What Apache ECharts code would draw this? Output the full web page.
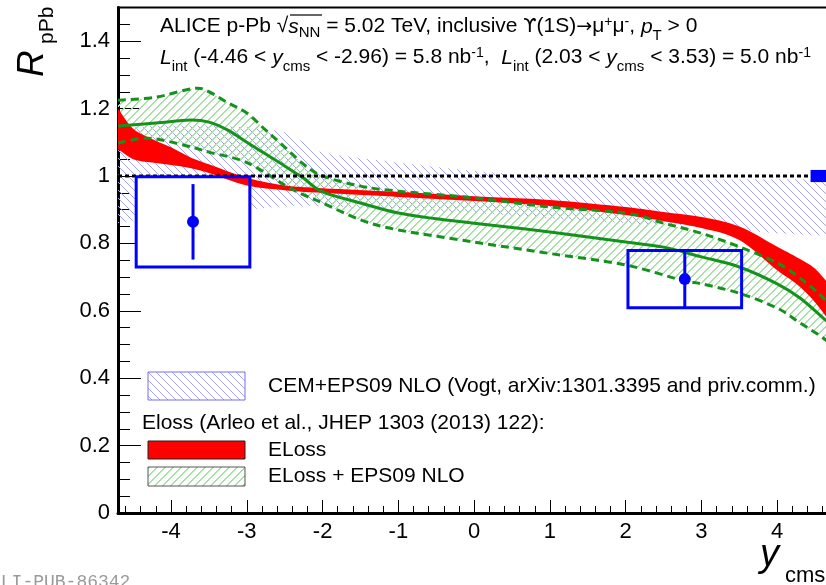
<!DOCTYPE html>
<html><head><meta charset="utf-8">
<script src="https://cdn.jsdelivr.net/npm/echarts@6/dist/echarts.min.js"></script>
<style>html,body{margin:0;padding:0;background:#fff}#c{width:826px;height:585px}</style>
</head><body><div id="c"></div>
<script>
// ---------------- data ----------------
// CEM+EPS09 NLO band (Vogt)
const cemX    = [-4.7, -4.0, -3.0, -2.5, -2.25, -2.0, -1.0, 0.0, 1.0, 2.0, 3.0, 4.0, 5.0];
const cemHigh = [1.14, 1.15, 1.145, 1.13, 1.10, 1.07, 1.04, 1.015, 1.0, 0.995, 0.99, 0.99, 0.99];
const cemLow  = [0.86, 0.88, 0.90, 0.91, 0.91, 0.91, 0.90, 0.89, 0.875, 0.86, 0.85, 0.83, 0.82];
// ELoss band (Arleo et al.)
const elossX    = [-4.7, -4.5, -4.25, -4.0, -3.75, -3.5, -3.0, -2.5, -2.0, -1.0, 0.0, 1.0, 2.0, 2.5, 3.0, 3.5, 4.0, 4.25, 4.5, 4.75];
const elossHigh = [1.20, 1.14, 1.11, 1.085, 1.056, 1.035, 0.995, 0.972, 0.964, 0.953, 0.940, 0.929, 0.908, 0.893, 0.878, 0.850, 0.790, 0.760, 0.725, 0.66];
const elossLow  = [1.08, 1.05, 1.04, 1.033, 1.024, 1.009, 0.972, 0.958, 0.950, 0.938, 0.926, 0.911, 0.884, 0.866, 0.846, 0.810, 0.720, 0.680, 0.625, 0.55];
// ELoss + EPS09 NLO: central curve and band edges
const epsX       = [-4.7, -4.2, -3.75, -3.5, -3.25, -3.0, -2.75, -2.5, -2.25, -2.0, -1.5, -1.0, -0.5, 0.0, 1.0, 2.0, 2.5, 3.0, 3.5, 4.0, 4.3, 4.6, 5.0];
const epsCentral = [1.148, 1.157, 1.166, 1.16, 1.136, 1.10, 1.065, 1.03, 0.993, 0.953, 0.92, 0.89, 0.873, 0.86, 0.834, 0.804, 0.789, 0.76, 0.73, 0.68, 0.638, 0.58, 0.50];
const epsUpX     = [-4.7, -4.2, -3.7, -3.5, -3.25, -3.0, -2.75, -2.5, -2.25, -2.0, -1.5, -1.0, 0.0, 1.0, 2.0, 2.5, 3.0, 3.5, 4.0, 4.3, 4.6, 5.0];
const epsUp      = [1.225, 1.234, 1.26, 1.25, 1.217, 1.187, 1.136, 1.086, 1.035, 1.0, 0.97, 0.955, 0.935, 0.908, 0.89, 0.86, 0.83, 0.79, 0.742, 0.697, 0.64, 0.55];
const epsLowX    = [-4.7, -4.3, -3.8, -3.5, -3.0, -2.5, -2.25, -2.0, -1.5, -1.0, 0.0, 1.0, 2.0, 2.75, 3.0, 3.5, 4.0, 4.3, 4.6, 5.0];
const epsLow     = [1.098, 1.112, 1.09, 1.071, 1.04, 0.973, 0.944, 0.92, 0.87, 0.84, 0.804, 0.77, 0.736, 0.69, 0.68, 0.652, 0.608, 0.564, 0.52, 0.45];
// ALICE data
const dataX    = [-3.71, 2.78];
const dataY    = [0.864, 0.694];
const statErr  = [0.112, 0.085];
const sysErr   = [0.134, 0.085];
const binLow   = [-4.46, 2.03];
const binHigh  = [-2.96, 3.53];
const globalBoxX = [4.44, 4.8];
const globalUnc  = 0.018;
const refX = [-4.7, 5.0];
const refY = [1, 1];
// axes
const xMin = -4.7, xMax = 5.0;
const yMin = 0, yMax = 1.5, yStep = 0.2;
const yTickLabels = ['0', '0.2', '0.4', '0.6', '0.8', '1', '1.2', '1.4'];
const xTickLabels = ['-4', '-3', '-2', '-1', '0', '1', '2', '3', '4'];

// ---------------- helpers ----------------
const FONT = 'Liberation Sans, Arial, Helvetica, sans-serif';
function hatch(color, dir, s, w) {
  const c = document.createElement('canvas'); c.width = s; c.height = s;
  const g = c.getContext('2d');
  g.clearRect(0, 0, s, s);
  g.fillStyle = color;
  for (let i = 0; i < s; i++) {
    for (let j = 0; j < w; j++) {
      if (dir === 'back') g.fillRect((i + j) % s, i, 1, 1);
      else g.fillRect((i + j) % s, s - 1 - i, 1, 1);
    }
  }
  return { type: 'pattern', image: c, repeat: 'repeat' };
}
const blueHatch = hatch('#a4a4f0', 'back', 8, 1);
const greenHatch = hatch('#a6e0a6', 'fwd', 8, 2);
const GREEN = '#14921c';

function smoothSeg(p) {
  let d = '';
  for (let i = 0; i < p.length - 1; i++) {
    const p0 = p[Math.max(i - 1, 0)], p1 = p[i], p2 = p[i + 1], p3 = p[Math.min(i + 2, p.length - 1)];
    const c1x = p1[0] + (p2[0] - p0[0]) / 6, c1y = p1[1] + (p2[1] - p0[1]) / 6;
    const c2x = p2[0] - (p3[0] - p1[0]) / 6, c2y = p2[1] - (p3[1] - p1[1]) / 6;
    d += ' C' + c1x + ',' + c1y + ' ' + c2x + ',' + c2y + ' ' + p2[0] + ',' + p2[1];
  }
  return d;
}
function bandSeries(name, xsHi, hi, xsLo, lo, fill) {
  return {
    type: 'custom', name, clip: true, silent: true,
    data: xsHi.map((x, i) => [x, hi[i]]),
    encode: { x: 0, y: 1 },
    renderItem(params, api) {
      if (params.dataIndex !== 0) return null;
      const up = xsHi.map((x, i) => api.coord([x, hi[i]]));
      const dn = xsLo.map((x, i) => api.coord([x, lo[i]])).reverse();
      const d = 'M' + up[0][0] + ',' + up[0][1] + smoothSeg(up) + ' L' + dn[0][0] + ',' + dn[0][1] + smoothSeg(dn) + ' Z';
      return { type: 'path', shape: { pathData: d }, style: { fill: fill, stroke: 'none', opacity: 1 } };
    }
  };
}
function curveSeries(name, xs, ys, color, width, dash) {
  return {
    type: 'custom', name, clip: true, silent: true,
    data: xs.map((x, i) => [x, ys[i]]),
    encode: { x: 0, y: 1 },
    renderItem(params, api) {
      if (params.dataIndex !== 0) return null;
      const p = xs.map((x, i) => api.coord([x, ys[i]]));
      const d = 'M' + p[0][0] + ',' + p[0][1] + smoothSeg(p);
      return { type: 'path', shape: { pathData: d },
        style: { fill: 'none', stroke: color, lineWidth: width, lineDash: dash || null } };
    }
  };
}
const pts = dataX.map((x, i) => [x, dataY[i], statErr[i], sysErr[i], binLow[i], binHigh[i]]);

const option = {
  animation: false,
  backgroundColor: '#fff',
  grid: { left: 118, width: 735, top: 7.5, height: 505.5, show: true, borderColor: '#000', borderWidth: 2,
          containLabel: false, outerBoundsMode: 'none' },
  xAxis: {
    type: 'value', min: xMin, max: xMax, splitNumber: 10, minInterval: 1, maxInterval: 1,
    axisLine: { onZero: false, lineStyle: { color: '#000', width: 3 } },
    axisTick: { inside: true, length: 13, lineStyle: { color: '#000', width: 1 } },
    minorTick: { show: true, splitNumber: 5, length: 7, lineStyle: { color: '#000', width: 1 } },
    splitLine: { show: false },
    axisLabel: { fontFamily: FONT, fontSize: 22, color: '#000', margin: 8,
      formatter: v => { const r = Math.round(v); const s = String(r); return (Math.abs(v - r) < 1e-6 && xTickLabels.indexOf(s) >= 0) ? s : ''; } }
  },
  yAxis: {
    type: 'value', min: yMin, max: yMax, interval: yStep,
    axisLine: { show: true, onZero: false, lineStyle: { color: '#000', width: 3 } },
    axisTick: { inside: true, length: 23, lineStyle: { color: '#000', width: 1 } },
    minorTick: { show: true, splitNumber: 4, length: 12, lineStyle: { color: '#000', width: 1 } },
    splitLine: { show: false },
    axisLabel: { fontFamily: FONT, fontSize: 22, color: '#000', margin: 8,
      formatter: v => { const k = Math.round(v / yStep); return (Math.abs(v - k * yStep) < 1e-6 && k < yTickLabels.length) ? yTickLabels[k] : ''; } }
  },
  series: [
    bandSeries('CEM+EPS09 NLO', cemX, cemHigh, cemX, cemLow, blueHatch),
    {
      type: 'custom', name: 'sysfill', silent: true, data: pts, encode: { x: 0, y: 1 },
      renderItem(params, api) {
        const a = api.coord([api.value(4), api.value(1) + api.value(3)]);
        const b = api.coord([api.value(5), api.value(1) - api.value(3)]);
        return { type: 'rect', shape: { x: a[0], y: a[1], width: b[0] - a[0], height: b[1] - a[1] }, style: { fill: '#fff', stroke: 'none' } };
      }
    },
    bandSeries('ELoss + EPS09 NLO', epsUpX, epsUp, epsLowX, epsLow, greenHatch),
    bandSeries('ELoss', elossX, elossHigh, elossX, elossLow, '#ff0000'),
    curveSeries('EPS up', epsUpX, epsUp, GREEN, 3, [8, 5]),
    curveSeries('EPS low', epsLowX, epsLow, GREEN, 3, [8, 5]),
    curveSeries('EPS central', epsX, epsCentral, GREEN, 3, null),
    {
      type: 'line', name: 'unity', silent: true, symbol: 'none', data: refX.map((x, i) => [x, refY[i]]),
      lineStyle: { color: '#000', width: 3, type: [4, 3] }, z: 3
    },
    {
      type: 'custom', name: 'data', silent: true, data: pts, encode: { x: 0, y: 1 }, z: 4,
      renderItem(params, api) {
        const y = api.value(1), st = api.value(2), sy = api.value(3);
        const a = api.coord([api.value(4), y + sy]);
        const b = api.coord([api.value(5), y - sy]);
        const c = api.coord([api.value(0), y]);
        const t = api.coord([api.value(0), y + st]);
        const u = api.coord([api.value(0), y - st]);
        return { type: 'group', children: [
          { type: 'rect', shape: { x: a[0], y: a[1], width: b[0] - a[0], height: b[1] - a[1] }, style: { fill: 'none', stroke: '#0000ff', lineWidth: 3 } },
          { type: 'line', shape: { x1: t[0], y1: t[1], x2: u[0], y2: u[1] }, style: { stroke: '#0000ff', lineWidth: 3 } },
          { type: 'circle', shape: { cx: c[0], cy: c[1], r: 6 }, style: { fill: '#0000ff', stroke: 'none' } }
        ] };
      }
    },
    {
      type: 'custom', name: 'global', silent: true, data: [[globalBoxX[0], 1 + globalUnc, globalBoxX[1], 1 - globalUnc]], encode: { x: 0, y: 1 }, z: 4,
      renderItem(params, api) {
        const a = api.coord([api.value(0), api.value(1)]);
        const b = api.coord([api.value(2), api.value(3)]);
        return { type: 'rect', shape: { x: a[0], y: a[1], width: b[0] - a[0], height: b[1] - a[1] }, style: { fill: '#0000ff', stroke: 'none' } };
      }
    }
  ],
  graphic: [
    { type: 'text', x: 160, y: 11.2, z: 10, style: {
      text: '{n|ALICE p-Pb }{n|√}{i|s}{nn|NN}{n| = 5.02 TeV, inclusive }{u|ϒ}{n|(1S)}{u|→}{n|μ}{sp|+}{n|μ}{sp|-}{n|, }{i|p}{sb|T}{n| > 0}\n' +
            '{i|L}{sb|int}{n| (-4.46 < }{i|y}{sb|cms}{n| < -2.96) = 5.8 nb}{sp|-1}{n|,  }{i|L}{sb|int}{n| (2.03 < }{i|y}{sb|cms}{n| < 3.53) = 5.0 nb}{sp|-1}',
      verticalAlign: 'top', align: 'left', fill: '#000', font: '21px ' + FONT,
      rich: {
        n: { fontFamily: FONT, fontSize: 21, lineHeight: 31, fill: '#000' },
        u: { fontFamily: 'DejaVu Sans', fontSize: 19, lineHeight: 31, fill: '#000' },
        i: { fontFamily: FONT, fontSize: 21, fontStyle: 'italic', lineHeight: 31, fill: '#000' },
        sb: { fontFamily: FONT, fontSize: 15, lineHeight: 13, padding: [18, 0, 0, 0], fill: '#000' },
        nn: { fontFamily: FONT, fontSize: 15, lineHeight: 13, padding: [12, 0, 0, 0], fill: '#000' },
        sp: { fontFamily: FONT, fontSize: 14, lineHeight: 13, padding: [0, 0, 9, 0], fill: '#000' }
      } } },
    { type: 'line', z: 10, shape: { x1: 290, y1: 15, x2: 322, y2: 15 }, style: { stroke: '#000', lineWidth: 1.2 } },
    // y-axis title
    { type: 'text', x: 33, y: 77, rotation: Math.PI / 2, z: 10, style: { text: 'R', font: 'italic 37px ' + FONT, fill: '#000', align: 'left', verticalAlign: 'middle' } },
    { type: 'text', x: 47, y: 44, rotation: Math.PI / 2, z: 10, style: { text: 'pPb', font: '21px ' + FONT, fill: '#000', align: 'left', verticalAlign: 'middle' } },
    // x-axis title
    { type: 'text', x: 760, y: 555, z: 10, style: { text: 'y', font: 'italic 38px ' + FONT, fill: '#000', align: 'left', verticalAlign: 'middle' } },
    { type: 'text', x: 785, y: 576, z: 10, style: { text: 'cms', font: '22px ' + FONT, fill: '#000', align: 'left', verticalAlign: 'middle' } },
    // legend
    { type: 'rect', z: 10, shape: { x: 148, y: 372, width: 97, height: 28 }, style: { fill: blueHatch, stroke: '#7070f0', lineWidth: 1 } },
    { type: 'text', x: 268, y: 386, z: 10, style: { text: 'CEM+EPS09 NLO (Vogt, arXiv:1301.3395 and priv.comm.)', font: '21px ' + FONT, fill: '#000', verticalAlign: 'middle' } },
    { type: 'text', x: 142, y: 423.5, z: 10, style: { text: 'Eloss (Arleo et al., JHEP 1303 (2013) 122):', font: '21px ' + FONT, fill: '#000', verticalAlign: 'middle' } },
    { type: 'rect', z: 10, shape: { x: 148, y: 441, width: 97, height: 18 }, style: { fill: '#ff0000', stroke: '#222', lineWidth: 1 } },
    { type: 'text', x: 268, y: 450, z: 10, style: { text: 'ELoss', font: '21px ' + FONT, fill: '#000', verticalAlign: 'middle' } },
    { type: 'rect', z: 10, shape: { x: 148, y: 467, width: 97, height: 19 }, style: { fill: greenHatch, stroke: '#555', lineWidth: 1 } },
    { type: 'text', x: 268, y: 476, z: 10, style: { text: 'ELoss + EPS09 NLO', font: '21px ' + FONT, fill: '#000', verticalAlign: 'middle' } },
    // publication id
    { type: 'text', x: -10, y: 573, z: 10, style: { text: 'ALI-PUB-86342', font: '18px Liberation Mono, monospace', fill: '#9a9a9a', verticalAlign: 'top' } }
  ]
};
const chart = echarts.init(document.getElementById('c'), null, { renderer: 'canvas' });
chart.setOption(option);
</script>
</body></html>
